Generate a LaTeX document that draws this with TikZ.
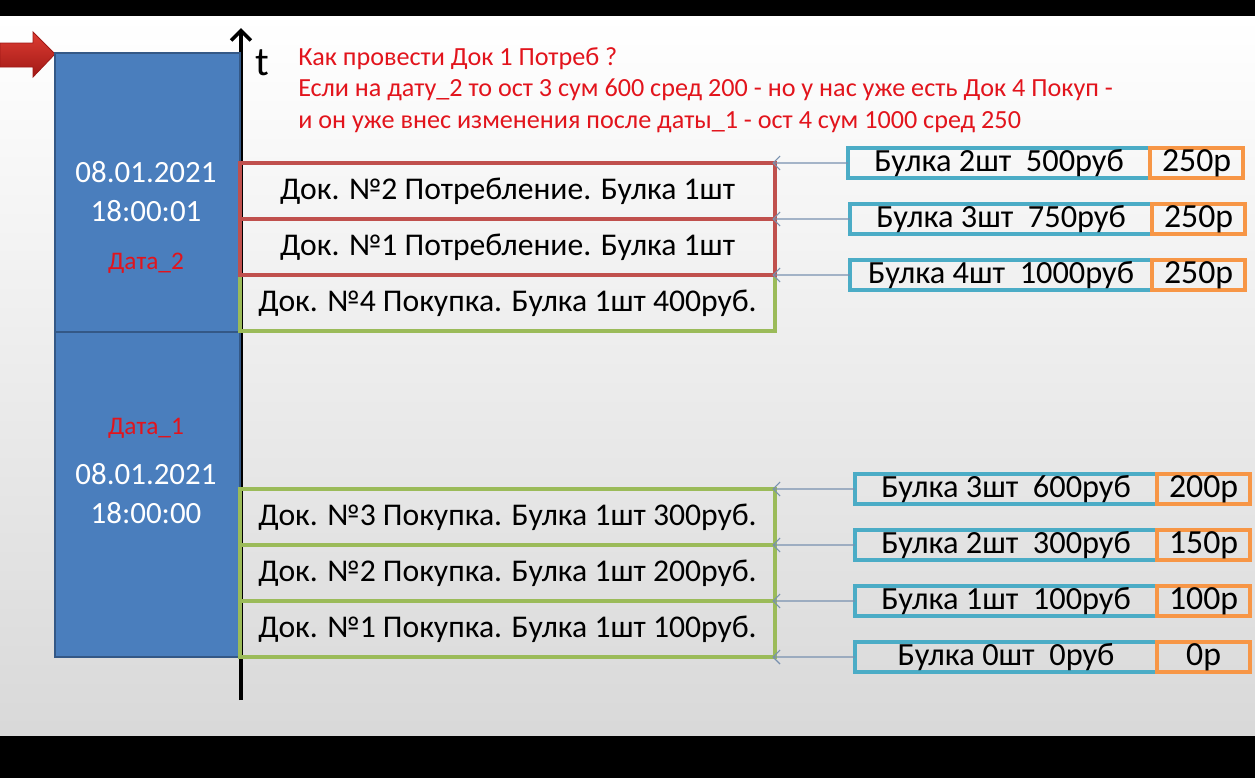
\documentclass[tikz,border=0pt]{standalone}
\usepackage{fontspec}
\setmainfont{Carlito}
\usetikzlibrary{positioning, arrows.meta, calc}

\definecolor{colblue}{RGB}{74,126,189}
\definecolor{colborder}{RGB}{52,88,134}
\definecolor{potred}{RGB}{192,80,77}
\definecolor{buygreen}{RGB}{155,187,89}
\definecolor{qtyblue}{RGB}{75,172,198}
\definecolor{sumorange}{RGB}{247,150,70}
\definecolor{linkgray}{RGB}{120,145,175}
\definecolor{notered}{RGB}{226,20,28}
\definecolor{arrowred}{RGB}{222,60,50}
\definecolor{arrowdark}{RGB}{160,25,22}

\begin{document}
\begin{tikzpicture}[
    x=0.025cm, y=-0.025cm,
    period/.style={draw=colborder, fill=colblue, line width=1.2pt, minimum width=4.625cm, inner sep=0pt, outer sep=0pt},
    stamp/.style={text=white, align=center, font=\fontsize{22}{27.7}\selectfont},
    datelabel/.style={text=notered, font=\fontsize{18}{20}\selectfont},
    doc/.style={line width=2.3pt, minimum width=13.375cm, minimum height=1.4cm, inner sep=0pt, outer sep=0pt, font=\fontsize{22.5}{26}\selectfont},
    potreb/.style={doc, draw=potred},
    pokup/.style={doc, draw=buygreen},
    qty/.style={draw=qtyblue, line width=2.3pt, minimum width=7.55cm, minimum height=0.75cm, inner sep=0pt, outer sep=0pt, font=\fontsize{23}{24}\selectfont},
    sum/.style={draw=sumorange, line width=2.3pt, minimum width=2.325cm, minimum height=0.75cm, inner sep=0pt, outer sep=0pt, font=\fontsize{24}{24}\selectfont},
    link/.style={draw=linkgray, line width=0.8pt, -{Straight Barb[length=5pt, width=10pt]}, shorten >=-2pt},
    axis/.style={line width=3pt, -{Straight Barb[length=7pt, width=14pt, line width=2.6pt]}}
]
    \useasboundingbox (0,0) rectangle (1255,778);

    % ================= BACKGROUND =================
    \fill[black] (0,0) rectangle (1255,778);
    \shade[top color=white, bottom color=gray!30] (0,16) rectangle (1255,735);

    % ================= TIME AXIS =================
    \coordinate (axbot) at (241,700);
    \coordinate (axtop) at (241,28);
    \draw[axis] (axbot) -- (axtop);
    \node[font=\fontsize{29}{30}\selectfont] (tlabel) at (262,63) {t};

    % red pointer
    \shade[top color=arrowred, bottom color=arrowdark, draw=arrowdark, line width=0.6pt]
        (0,43) -- (33,43) -- (33,32) -- (55,54) -- (33,77) -- (33,67) -- (0,67) -- cycle;

    % ================= PERIODS =================
    \node[period, minimum height=6.975cm] (per2) at (147.5,192.5) {};
    \node[period, minimum height=8.125cm] (per1) at (147.5,494.5) {};

    \node[stamp] (stamp2) at (146,191.5) {08.01.2021\\18:00:01};
    \node[datelabel] (date2) at (146,263) {Дата\_2};
    \node[datelabel] (date1) at (146,428) {Дата\_1};
    \node[stamp] (stamp1) at (146,493.5) {08.01.2021\\18:00:00};

    % ================= NOTE =================
    \node[anchor=west, align=left, inner sep=0pt, text=notered, font=\fontsize{18.6}{22.5}\selectfont] (note) at (298,90)
        {Как провести Док 1 Потреб ?\\
         Если на дату\_2 то ост 3 сум 600 сред 200 - но у нас уже есть Док 4 Покуп -\\
         и он уже внес изменения после даты\_1 - ост 4 сум 1000 сред 250};

    % ================= DOCUMENTS =================
    \node[pokup] (dk4) at (507.5,303) {Док. №4 Покупка. Булка 1шт 400руб.};
    \node[potreb] (dp1) at (507.5,247) {Док. №1 Потребление. Булка 1шт};
    \node[potreb] (dp2) at (507.5,191) {Док. №2 Потребление. Булка 1шт};

    \node[pokup] (dk3) at (507.5,517) {Док. №3 Покупка. Булка 1шт 300руб.};
    \node[pokup] (dk2) at (507.5,573) {Док. №2 Покупка. Булка 1шт 200руб.};
    \node[pokup] (dk1) at (507.5,629) {Док. №1 Покупка. Булка 1шт 100руб.};

    % ================= BALANCES =================
    \node[qty] (qa2) at (999,163) {Булка 2шт\ \ 500руб};
    \node[sum, right=0pt of qa2] (sa2) {250р};
    \node[qty] (qa3) at (1001,219) {Булка 3шт\ \ 750руб};
    \node[sum, right=0pt of qa3] (sa3) {250р};
    \node[qty] (qa4) at (1001,275) {Булка 4шт\ \ 1000руб};
    \node[sum, right=0pt of qa4] (sa4) {250р};

    \node[qty] (qb3) at (1006,489) {Булка 3шт\ \ 600руб};
    \node[sum, right=0pt of qb3] (sb3) {200р};
    \node[qty] (qb2) at (1006,545) {Булка 2шт\ \ 300руб};
    \node[sum, right=0pt of qb2] (sb2) {150р};
    \node[qty] (qb1) at (1006,601) {Булка 1шт\ \ 100руб};
    \node[sum, right=0pt of qb1] (sb1) {100р};
    \node[qty] (qb0) at (1006,657) {Булка 0шт\ \ 0руб};
    \node[sum, right=0pt of qb0] (sb0) {0р};

    % ================= LINKS =================
    \draw[link] (qa2.west) -- (dp2.north east);
    \draw[link] (qa3.west) -- (dp1.north east);
    \draw[link] (qa4.west) -- (dk4.north east);

    \draw[link] (qb3.west) -- (dk3.north east);
    \draw[link] (qb2.west) -- (dk2.north east);
    \draw[link] (qb1.west) -- (dk1.north east);
    \draw[link] (qb0.west) -- (dk1.south east);

\end{tikzpicture}
\end{document}
